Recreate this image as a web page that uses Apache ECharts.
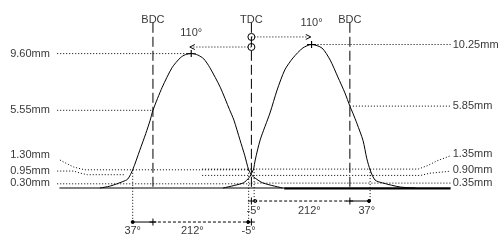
<!DOCTYPE html>
<html><head><meta charset="utf-8">
<script src="https://cdn.jsdelivr.net/npm/echarts@6/dist/echarts.min.js"></script>
<style>html,body{margin:0;padding:0;background:#fff}#c{width:500px;height:240px}</style>
</head><body><div id="c"></div>
<script>
// ---- data (crank degrees relative to TDC, lift in mm) ----
const exhaustDeg  = [-277,-258,-235,-226,-217,-204,-193,-185,-180,-163,-145,-130,-121,-110,-98,-87,-76,-57,-40,-32,-21,-12,-5,1,7,21,57];
const exhaustLift = [0,0.14,0.46,0.64,1.30,2.7,3.9,4.85,5.55,7.2,8.6,9.3,9.52,9.6,9.5,9.22,8.6,7.2,5.6,4.85,3.45,2.3,1.3,0.9,0.7,0.36,0];
const intakeDeg   = [-52,-15,-4,1,4,7,16,34,47,61,76,94,110,129,144,158,171,180,186,193,204,211,217,226,240,272,300];
const intakeLift  = [0,0.36,0.75,1.1,1.35,2.0,3.43,5.36,7.0,8.43,9.29,10.0,10.25,10.0,9.14,7.93,6.79,5.85,5.3,4.6,3.4,2.1,1.3,0.57,0.36,0.07,0];

const bdcDeg = [-180, 180];
const tdcDeg = 0;
const peakDeg = [-110, 110];
const peakLift = [9.60, 10.25];
const bdcLift = [5.55, 5.85];
const exTiming = [-217, -5];   // exhaust open / close
const inTiming = [5, 217];     // intake open / close
const openLift = [1.30, 1.35];
const lashLift = [0.95, 0.90];
const rampLift = [0.30, 0.35];

const leftLabels  = ['9.60mm','5.55mm','1.30mm','0.95mm','0.30mm'];
const rightLabels = ['10.25mm','5.85mm','1.35mm','0.90mm','0.35mm'];
const topLabels   = ['BDC','TDC','BDC'];
const peakLabels  = ['110°','110°'];
const exDurLabels = ['37°','212°','-5°'];
const inDurLabels = ['-5°','212°','37°'];

// ---- layout (pixel mapping of the hidden axes) ----
const W = 500, H = 240, pxPerDeg = 0.547, tdcX = 251.4, pxPerMm = 14, baseY = 188;
const xMin = -tdcX / pxPerDeg, xMax = (W - tdcX) / pxPerDeg;
const yMin = -(H - baseY) / pxPerMm, yMax = baseY / pxPerMm;
const L = {
  leftEdge:-355, rightEdge:364, labelLeft:-441, labelRight:368,
  vTop:11.8, topLabelY:12.0, peakLabelY:[11.07,11.79], arrowY:[10.07,10.79], arrowEnd:[-108,104],
  exArrowY:-2.43, inArrowY:-0.93, exTextY:-3.07, inTextY:-1.64,
  leftLabelY:[9.6,5.55,2.36,1.21,0.33], rightLabelY:[10.25,5.85,2.43,1.29,0.36],
  exTextX:[-217,-108,-5], inTextX:[4,106,211]
};

const K = '#000';
function seg(points, type, width, z) {
  return {type:'line', data:points, symbol:'none', silent:true, animation:false, smooth:false,
    lineStyle:{color:K, width:width||1, type:type||'solid'}, z:z||2};
}
const DOT = [1,2], DASH = [10,4], SDASH = [3,2];
function texts(items, align) {
  return {type:'scatter', symbolSize:0, silent:true, animation:false, z:5,
    data: items.map(d => ({value:[d[0], d[1]], name:d[2]})),
    label:{show:true, position:[0,0], align:align||'center', verticalAlign:'middle',
      formatter: p => p.name, color:K, fontSize:11, fontFamily:'Liberation Sans, Arial, sans-serif'}};
}
function marks(points, symbol, size, fill) {
  return {type:'scatter', silent:true, animation:false, z:6, symbol:symbol, symbolSize:size,
    data:points, itemStyle:{color: fill ? K : 'rgba(0,0,0,0)', borderColor:K, borderWidth:1, opacity:1}};
}

const series = [];
// cam curves
series.push(Object.assign(seg(exhaustDeg.map((d,i)=>[d, exhaustLift[i]])), {smooth:0.25, z:4}));
series.push(Object.assign(seg(intakeDeg.map((d,i)=>[d, intakeLift[i]])), {smooth:0.25, z:4}));
// baseline
series.push(seg([[-351,0],[L.rightEdge,0]], 'solid', 1, 3));
series.push(seg([[60,-0.04],[L.rightEdge,-0.04]], 'solid', 2, 3));
// BDC / TDC dashed verticals
bdcDeg.concat([tdcDeg]).forEach(d => series.push(seg([[d, L.vTop],[d, 0]], DASH, 1, 3)));
// dotted reference levels
series.push(seg([[L.leftEdge, peakLift[0]],[peakDeg[0], peakLift[0]]], DOT));
series.push(seg([[L.leftEdge, bdcLift[0]],[bdcDeg[0], bdcLift[0]]], DOT));
series.push(seg([[peakDeg[1], peakLift[1]],[L.rightEdge, peakLift[1]]], DOT));
series.push(seg([[bdcDeg[1], bdcLift[1]],[L.rightEdge, bdcLift[1]]], DOT));
// left opening level with leader
series.push(seg([[-350, 2.0],[-338, 1.75],[-325, 1.5],[-305, openLift[0]],[exTiming[1], openLift[0]]], DOT));
series.push(seg([[L.leftEdge, 1.21],[-325, 1.21],[-312, 1.05],[-300, lashLift[0]],[-230, lashLift[0]]], DOT));
// right levels with leaders
series.push(seg([[-90, openLift[1]],[305, openLift[1]],[322, 1.6],[340, 1.95],[L.rightEdge, 2.3]], DOT));
series.push(seg([[-90, lashLift[1]],[310, lashLift[1]],[325, 1.05],[L.rightEdge, 1.2]], DOT));
// ramp levels
series.push(seg([[L.leftEdge, rampLift[0]],[tdcDeg, rampLift[0]]], DOT));
series.push(seg([[tdcDeg, rampLift[1]],[L.rightEdge, rampLift[1]]], DOT));
// timing verticals
series.push(seg([[exTiming[0], openLift[0]],[exTiming[0], L.exArrowY]], DOT));
series.push(seg([[exTiming[1], openLift[0]],[exTiming[1], L.exArrowY]], DOT));
series.push(seg([[inTiming[0], openLift[1]],[inTiming[0], L.inArrowY]], DOT));
series.push(seg([[inTiming[1], openLift[1]],[inTiming[1], L.inArrowY]], DOT));
// duration arrows
series.push(seg([[exTiming[0], L.exArrowY],[bdcDeg[0], L.exArrowY]], 'solid'));
series.push(seg([[bdcDeg[0], L.exArrowY],[exTiming[1], L.exArrowY]], SDASH));
series.push(seg([[inTiming[0], L.inArrowY],[bdcDeg[1], L.inArrowY]], SDASH));
series.push(seg([[bdcDeg[1], L.inArrowY],[inTiming[1], L.inArrowY]], 'solid'));
// peak arrows from TDC
series.push(seg([[tdcDeg, L.arrowY[0]],[L.arrowEnd[0], L.arrowY[0]]], DOT));
series.push(seg([[tdcDeg, L.arrowY[1]],[L.arrowEnd[1], L.arrowY[1]]], DOT));
series.push(marks([[L.arrowEnd[0], L.arrowY[0]]], 'path://M5,0L0,2.5L5,5', [5,5], false));
series.push(marks([[L.arrowEnd[1], L.arrowY[1]]], 'path://M0,0L5,2.5L0,5', [5,5], false));
series.push(marks([[tdcDeg, L.arrowY[0]],[tdcDeg, L.arrowY[1]]], 'circle', 7, false));
// plus marks
const plus = 'path://M0,3L8,3M4,0L4,6';
series.push(marks(peakDeg.map((d,i)=>[d, peakLift[i]]), plus, [9,7], false));
series.push(marks([[bdcDeg[0], L.exArrowY],[tdcDeg, L.exArrowY],[bdcDeg[1], L.inArrowY],[tdcDeg, L.inArrowY]], plus, [7,7], false));
// arrow end dots
series.push(marks([[exTiming[0], L.exArrowY],[exTiming[1]-1, L.exArrowY],[inTiming[1]-2, L.inArrowY]], 'circle', 3, true));
series.push(marks([[inTiming[0]+2, L.inArrowY]], 'circle', 3, false));
// texts
series.push(texts(leftLabels.map((t,i)=>[L.labelLeft, L.leftLabelY[i], t]), 'left'));
series.push(texts(rightLabels.map((t,i)=>[L.labelRight, L.rightLabelY[i], t]), 'left'));
series.push(texts([[bdcDeg[0], L.topLabelY, topLabels[0]],[tdcDeg, L.topLabelY, topLabels[1]],[bdcDeg[1], L.topLabelY, topLabels[2]]]));
series.push(texts(peakDeg.map((d,i)=>[d, L.peakLabelY[i], peakLabels[i]])));
series.push(texts(exDurLabels.map((t,i)=>[L.exTextX[i], L.exTextY, t])));
series.push(texts(inDurLabels.map((t,i)=>[L.inTextX[i], L.inTextY, t])));

const chart = echarts.init(document.getElementById('c'), null, {renderer:'canvas'});
chart.setOption({
  backgroundColor:'#fff', animation:false,
  grid:{left:0, right:0, top:0, bottom:0},
  xAxis:{type:'value', min:xMin, max:xMax, show:false},
  yAxis:{type:'value', min:yMin, max:yMax, show:false},
  series: series
});
</script></body></html>
